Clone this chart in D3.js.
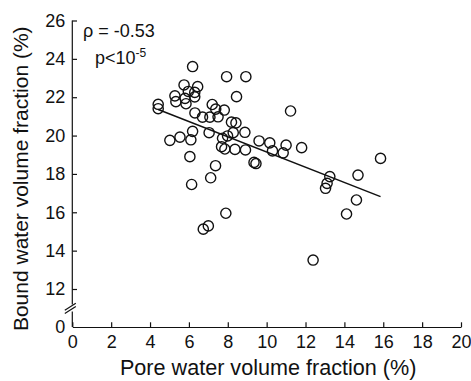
<!DOCTYPE html>
<html><head><meta charset="utf-8">
<script src="https://cdn.jsdelivr.net/npm/d3@7/dist/d3.min.js"></script>
<style>
body{margin:0;background:#fff}
svg{display:block}
text{font-family:"Liberation Sans",Arial,Helvetica,sans-serif;fill:#111}
</style>
</head><body>
<svg id="chart" width="471" height="381"></svg>
<script>
// ---- data ----
const poreWater = [
  5.75, 6.45, 5.97, 6.30, 5.28, 5.80, 6.30, 5.33, 5.85, 6.31,
  6.19, 7.94, 8.93, 8.45, 4.42, 4.42,
  7.20, 7.38, 7.82, 6.70, 7.08, 7.50, 8.19, 8.42, 11.23,
  6.19, 7.04, 8.28, 8.88, 7.73, 7.99,
  5.02, 5.54, 6.10, 9.61, 10.16, 11.00, 11.80,
  7.68, 7.85, 8.37, 8.91, 10.30, 10.85,
  9.35, 9.45, 6.05, 7.37, 7.12, 6.14,
  7.90, 6.74, 7.00,
  15.86, 14.70, 13.25, 13.11, 13.03, 14.62, 14.11, 12.39
];
const boundWater = [
  22.64, 22.55, 22.30, 22.25, 22.07, 21.94, 22.02, 21.77, 21.66, 21.18,
  23.60, 23.07, 23.07, 22.03, 21.63, 21.40,
  21.62, 21.38, 21.33, 20.96, 20.96, 20.98, 20.70, 20.66, 21.28,
  20.22, 20.15, 20.15, 20.17, 19.86, 19.98,
  19.75, 19.92, 19.78, 19.72, 19.62, 19.50, 19.37,
  19.42, 19.30, 19.28, 19.25, 19.20, 19.10,
  18.60, 18.54, 18.90, 18.43, 17.80, 17.45,
  15.95, 15.12, 15.29,
  18.81, 17.94, 17.86, 17.51, 17.25, 16.64, 15.91, 13.51
];
const xTickValues = [0, 2, 4, 6, 8, 10, 12, 14, 16, 18, 20];
const yTickValues = [0, 12, 14, 16, 18, 20, 22, 24, 26];
const yBreakValue = 6;             // where the y axis is broken (between 0 and 12)
const fitSlope = -0.3975;
const fitIntercept = 23.12;
const rhoText = "\u03C1 = -0.53";
const pText = "p<10";
const pExponent = "-5";
const xTitle = "Pore water volume fraction (%)";
const yTitle = "Bound water volume fraction (%)";

// ---- layout ----
const svg = d3.select("#chart");
const mLeft = 72.3, mRight = 461, mTop = 20.5, mBottom = 327, yBreakPix = 289;

const x = d3.scaleLinear().domain([0, 20]).range([mLeft, mRight]);
// piecewise scale: 0..12 compressed (axis break), 12..26 linear
const y = d3.scaleLinear().domain([0, 12, 26]).range([mBottom, yBreakPix, mTop]);

const ink = "#111";

// x axis
const xAxis = d3.axisBottom(x).tickValues(xTickValues).tickFormat(d3.format("d"))
  .tickSizeInner(-4.7).tickSizeOuter(0).tickPadding(8);
const gx = svg.append("g").attr("transform", `translate(0,${mBottom})`).call(xAxis);
gx.selectAll("text").attr("font-size", 18).style("fill", ink);
gx.selectAll("line").attr("stroke", ink).attr("stroke-width", 1.2);
gx.select(".domain").attr("stroke", ink).attr("stroke-width", 1.2);

// y axis (ticks only, domain drawn with a break)
const yAxis = d3.axisLeft(y).tickValues(yTickValues).tickFormat(d3.format("d"))
  .tickSizeInner(-4.7).tickSizeOuter(0).tickPadding(7);
const gy = svg.append("g").attr("transform", `translate(${mLeft},0)`).call(yAxis);
gy.select(".domain").remove();
gy.selectAll("text").attr("font-size", 18).style("fill", ink);
gy.selectAll("line").attr("stroke", ink).attr("stroke-width", 1.2);
gy.selectAll(".tick").filter(d => d === 0).select("line").remove();

const yb = y(yBreakValue);
const axisG = svg.append("g").attr("stroke", ink).attr("stroke-width", 1.2).attr("fill", "none");
axisG.append("line").attr("x1", mLeft).attr("x2", mLeft).attr("y1", y(26)).attr("y2", yb - 3.5);
axisG.append("line").attr("x1", mLeft).attr("x2", mLeft).attr("y1", yb + 3.5).attr("y2", y(0));
[-1.6, 1.6].forEach(o => {
  axisG.append("line")
    .attr("x1", mLeft - 7.5).attr("y1", yb + o + 3.8)
    .attr("x2", mLeft + 3.5).attr("y2", yb + o - 3.2);
});

// regression line
const fitX = [d3.min(poreWater), d3.max(poreWater)];
svg.append("line")
  .attr("x1", x(fitX[0])).attr("y1", y(fitIntercept + fitSlope * fitX[0]))
  .attr("x2", x(fitX[1])).attr("y2", y(fitIntercept + fitSlope * fitX[1]))
  .attr("stroke", ink).attr("stroke-width", 1.5);

// points
svg.append("g").selectAll("circle")
  .data(poreWater.map((v, i) => [v, boundWater[i]]))
  .join("circle")
  .attr("cx", d => x(d[0])).attr("cy", d => y(d[1]))
  .attr("r", 5.1)
  .attr("fill", "none").attr("stroke", ink).attr("stroke-width", 1.4);

// annotation
svg.append("text").attr("x", 83).attr("y", 36.5).attr("font-size", 18).text(rhoText);
const pt = svg.append("text").attr("x", 95).attr("y", 63.5).attr("font-size", 18);
pt.append("tspan").text(pText);
pt.append("tspan").attr("dy", -7).attr("font-size", 12).text(pExponent);

// axis titles
svg.append("text").attr("x", (mLeft + mRight) / 2 + 1.5).attr("y", 375)
  .attr("text-anchor", "middle").attr("font-size", 21.6).text(xTitle);
svg.append("text").attr("transform", `translate(28,${(mTop + mBottom) / 2 + 5}) rotate(-90)`)
  .attr("text-anchor", "middle").attr("font-size", 21).text(yTitle);
</script>
</body></html>
